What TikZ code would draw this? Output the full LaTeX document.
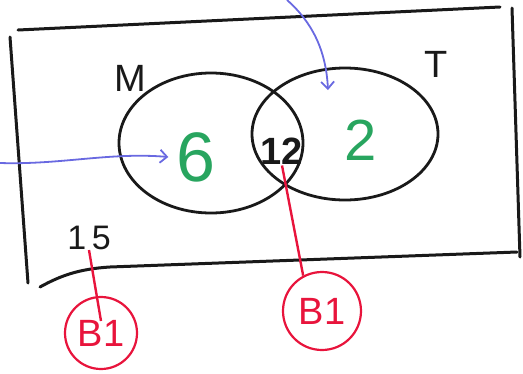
\documentclass[tikz,border=0pt]{standalone}
\usepackage{fontspec}
\setmainfont{Liberation Sans}
\usetikzlibrary{arrows.meta,shapes.geometric}
\definecolor{inkgreen}{RGB}{40,165,95}
\definecolor{inkblue}{RGB}{105,105,225}
\definecolor{inkred}{RGB}{232,20,60}
\definecolor{inkblack}{RGB}{25,25,25}
\begin{document}
\begin{tikzpicture}[x=1pt,y=-1pt,
  frameline/.style={draw=inkblack,line width=3pt,line cap=round},
  setshape/.style={draw=inkblack,line width=2.8pt,ellipse,inner sep=0pt},
  setlabel/.style={text=inkblack,font=\fontsize{38}{38}\selectfont,inner sep=0pt},
  greennum/.style={text=inkgreen,font=\fontsize{70}{70}\selectfont,inner sep=2pt},
  blacknum/.style={text=inkblack,font=\fontsize{38}{38}\selectfont\bfseries,inner sep=1pt},
  markcircle/.style={draw=inkred,line width=2.2pt,circle,minimum size=72pt,inner sep=0pt,
     text=inkred,font=\fontsize{38}{38}\selectfont},
  redline/.style={draw=inkred,line width=2.4pt},
  bluearrow/.style={draw=inkblue,line width=1.8pt,-{Straight Barb[length=7pt,width=13pt]}}
]
\useasboundingbox (0,0) rectangle (523,373);
% frame
\draw[frameline] (18,30) -- (500,7);
\draw[frameline] (512,8) -- (520,257);
\draw[frameline] (10,37) -- (28,283);
\draw[frameline] (40,287) .. controls (60,276) and (78,269) .. (110,267) -- (517,252);
% sets
\node[setshape,minimum width=184pt,minimum height=140pt] (M) at (211,143) {};
\node[setshape,minimum width=186pt,minimum height=132pt] (T) at (345,134) {};
\node[setlabel] (lM) at (130,78) {M};
\node[setlabel] (lT) at (436,64) {T};
% numbers
\node[greennum] (n6) at (196,157) {6};
\node[greennum,font=\fontsize{58}{58}\selectfont] (n2) at (361,140) {2};
\node[blacknum] (n12) at (282,151) {12};
\node[setlabel,font=\fontsize{34}{34}\selectfont] (n15) at (89,238) {1\,5};
% marks
\node[markcircle] (b1a) at (101,333) {B1};
\node[markcircle,minimum size=78pt] (b1b) at (322,311) {B1};
\draw[redline] (n15.south) -- ([yshift=12pt]b1a.center);
\draw[redline] (n12.south) -- (b1b.118);
% blue arrows
\coordinate (bl) at (0,163);
\coordinate (bt) at (287,0);
\draw[bluearrow] (bl) .. controls (60,165) and (110,152) .. ([xshift=-6pt]n6.west);
\draw[bluearrow] (bt) .. controls (312,22) and (326,50) .. (328,90);
\end{tikzpicture}
\end{document}
